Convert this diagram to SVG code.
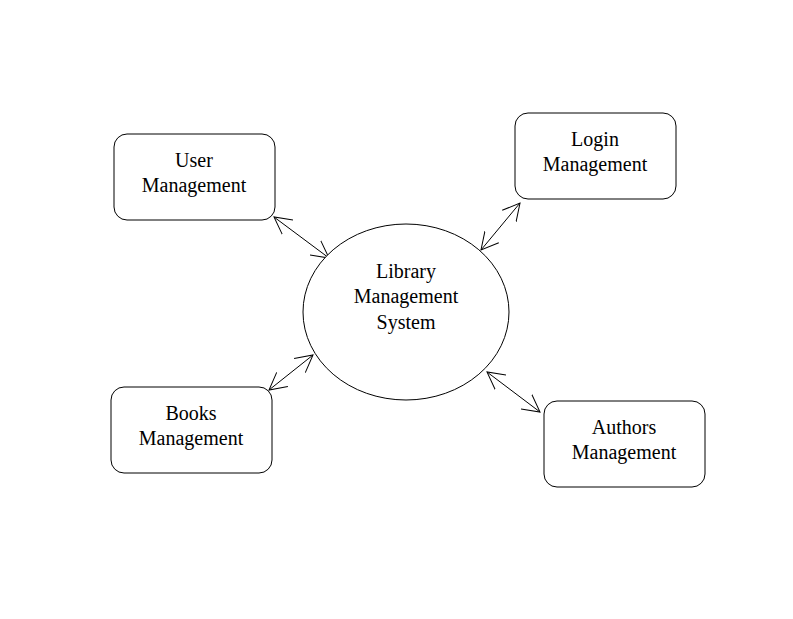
<svg xmlns="http://www.w3.org/2000/svg" width="793" height="619" viewBox="0 0 793 619">
<style>
.box{fill:#fff;stroke:#000;stroke-width:1}
.t{font-family:"Liberation Serif","Times New Roman",serif;font-size:20px;fill:#000;text-anchor:middle}
.c{stroke:#000;stroke-width:1;fill:none;marker-start:url(#ah);marker-end:url(#ah)}
</style>
<defs>
<marker id="ah" markerUnits="userSpaceOnUse" markerWidth="20" markerHeight="20" refX="17" refY="9" orient="auto-start-reverse" viewBox="0 0 20 18">
<path d="M0,0 L17,9 L0,18" fill="none" stroke="#000" stroke-width="1"/>
</marker>
</defs>
<rect width="793" height="619" fill="#fff"/>
<g id="connectors">
<line class="c" x1="274" y1="217" x2="329" y2="258"/>
<line class="c" x1="520" y1="203" x2="481" y2="250"/>
<line class="c" x1="313" y1="355" x2="269" y2="390"/>
<line class="c" x1="487" y1="372" x2="540" y2="412"/>
</g>
<g id="center">
<ellipse class="box" cx="406" cy="312" rx="103" ry="88"/>
<text class="t" x="406" y="278">Library</text>
<text class="t" x="406" y="303">Management</text>
<text class="t" x="406" y="329">System</text>
</g>
<g id="user">
<rect class="box" x="114" y="134" width="161" height="86" rx="13"/>
<text class="t" x="194" y="167">User</text>
<text class="t" x="194" y="192">Management</text>
</g>
<g id="login">
<rect class="box" x="515" y="113" width="161" height="86" rx="13"/>
<text class="t" x="595" y="146">Login</text>
<text class="t" x="595" y="171">Management</text>
</g>
<g id="books">
<rect class="box" x="111" y="387" width="161" height="86" rx="13"/>
<text class="t" x="191" y="420">Books</text>
<text class="t" x="191" y="445">Management</text>
</g>
<g id="authors">
<rect class="box" x="544" y="401" width="161" height="86" rx="13"/>
<text class="t" x="624" y="434">Authors</text>
<text class="t" x="624" y="459">Management</text>
</g>
</svg>
